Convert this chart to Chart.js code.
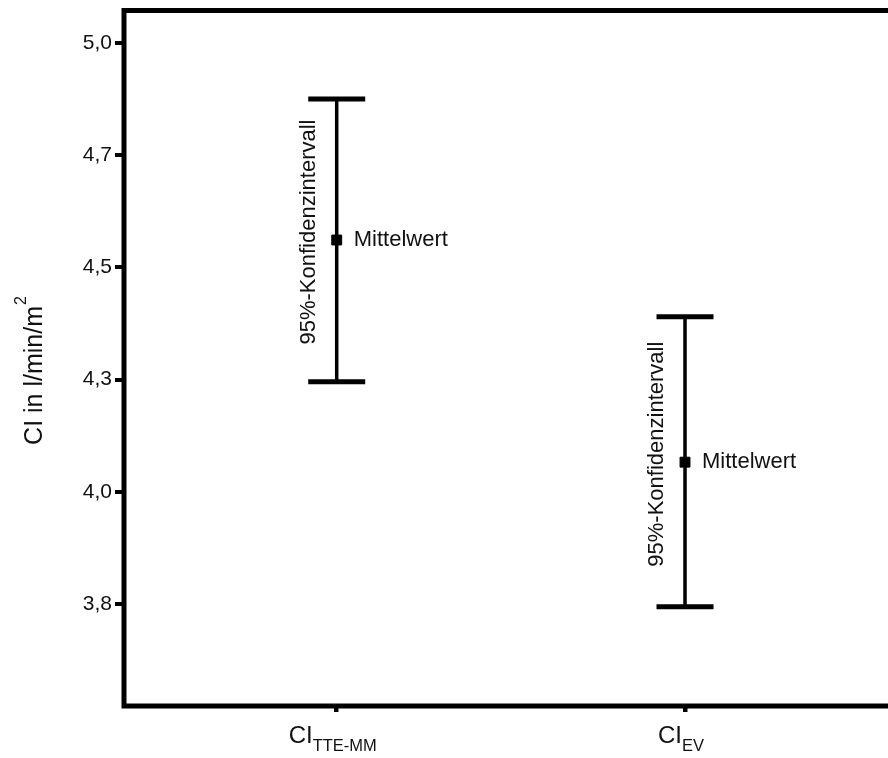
<!DOCTYPE html>
<html>
<head>
<meta charset="utf-8">
<script src="https://cdn.jsdelivr.net/npm/chart.js@4/dist/chart.umd.min.js"></script>
<style>
  html, body { margin: 0; padding: 0; background: #fff; overflow: hidden; }
  #wrap { width: 888px; height: 758px; position: relative; }
</style>
</head>
<body>
<div id="wrap"><canvas id="c" width="888" height="758"></canvas></div>
<script>
// Group positions and labels (main text + subscript)
const groupPos = [1, 2];
const groupMain = ['CI', 'CI'];
const groupSub = ['TTE-MM', 'EV'];

// Mean cardiac index and 95% confidence limits (l/min/m²)
const means = [4.561, 4.066];
const ciLow = [4.245, 3.744];
const ciHigh = [4.875, 4.390];

// Y axis tick values and their printed labels
const yTickValues = [5.0, 4.75, 4.5, 4.25, 4.0, 3.75];
const yTickLabels = ['5,0', '4,7', '4,5', '4,3', '4,0', '3,8'];

const FONT = '"Liberation Sans", Arial, sans-serif';

// One line dataset per group: vertical whisker with horizontal caps
const whiskerSets = groupPos.map((x, i) => ({
  data: [{ x: x, y: ciLow[i] }, { x: x, y: ciHigh[i] }],
  showLine: true,
  borderColor: '#000',
  borderWidth: 3.5,
  pointStyle: 'line',
  pointRadius: 28.5,
  pointBorderWidth: 5,
  pointBorderColor: '#000',
  pointHoverRadius: 28.5
}));

const meanSet = {
  data: groupPos.map((x, i) => ({ x: x, y: means[i] })),
  showLine: false,
  pointStyle: 'rect',
  pointRadius: 7,
  pointBackgroundColor: '#000',
  pointBorderColor: '#000',
  pointBorderWidth: 1
};

// Frame, axis title, group labels and annotations
const decor = {
  id: 'decor',
  afterDraw(chart) {
    const ctx = chart.ctx;
    const a = chart.chartArea;
    const xs = chart.scales.x, ys = chart.scales.y;
    ctx.save();

    // frame (top, left, bottom)
    ctx.strokeStyle = '#000';
    ctx.lineWidth = 5;
    ctx.lineCap = 'butt';
    ctx.beginPath();
    ctx.moveTo(chart.width + 5, a.top + 0.5);
    ctx.lineTo(a.left, a.top + 0.5);
    ctx.lineTo(a.left, a.bottom);
    ctx.lineTo(chart.width + 5, a.bottom);
    ctx.stroke();

    ctx.fillStyle = '#111';

    // y axis title with superscript
    ctx.save();
    ctx.translate(33, 371);
    ctx.rotate(-Math.PI / 2);
    ctx.font = '25px ' + FONT;
    const mainT = 'CI in l/min/m';
    const w1 = ctx.measureText(mainT).width;
    ctx.font = '16px ' + FONT;
    const w2 = ctx.measureText('2').width;
    const start = -(w1 + w2) / 2;
    ctx.textBaseline = 'alphabetic';
    ctx.textAlign = 'left';
    ctx.font = '25px ' + FONT;
    ctx.fillText(mainT, start, 9);
    ctx.font = '16px ' + FONT;
    ctx.fillText('2', start + w1 + 1, -7);
    ctx.restore();

    // group labels with subscript
    groupPos.forEach((v, i) => {
      const px = xs.getPixelForValue(v) - 4;
      ctx.font = '24px ' + FONT;
      const m = ctx.measureText(groupMain[i]).width;
      ctx.font = '16.5px ' + FONT;
      const s = ctx.measureText(groupSub[i]).width;
      const x0 = px - (m + s) / 2;
      ctx.textAlign = 'left';
      ctx.textBaseline = 'alphabetic';
      ctx.font = '24px ' + FONT;
      ctx.fillText(groupMain[i], x0, 743);
      ctx.font = '16.5px ' + FONT;
      ctx.fillText(groupSub[i], x0 + m, 751);
    });

    // annotations beside each interval
    groupPos.forEach((v, i) => {
      const px = xs.getPixelForValue(v);
      const py = ys.getPixelForValue(means[i]);
      ctx.font = '22px ' + FONT;
      ctx.textAlign = 'left';
      ctx.textBaseline = 'middle';
      ctx.fillText('Mittelwert', px + 17, py);

      ctx.save();
      ctx.translate(px - 28, py - 8);
      ctx.rotate(-Math.PI / 2);
      ctx.textAlign = 'center';
      ctx.textBaseline = 'middle';
      ctx.fillText('95%-Konfidenzintervall', 0, 0);
      ctx.restore();
    });

    ctx.restore();
  }
};

new Chart(document.getElementById('c'), {
  type: 'scatter',
  data: { datasets: [...whiskerSets, meanSet] },
  options: {
    responsive: false,
    animation: false,
    events: [],
    layout: { autoPadding: false, padding: { top: 10, right: 0, bottom: 0, left: 0 } },
    plugins: { legend: { display: false }, tooltip: { enabled: false } },
    scales: {
      x: {
        type: 'linear',
        min: 0.3893,
        max: 2.5828,
        afterBuildTicks(scale) { scale.ticks = groupPos.map(v => ({ value: v })); },
        afterFit(scale) { scale.height = 52; scale.paddingLeft = 0; scale.paddingRight = 0; },
        ticks: { display: false },
        border: { display: false },
        grid: { display: true, drawOnChartArea: false, drawTicks: true, tickLength: 6, lineWidth: 4.5, color: '#000' }
      },
      y: {
        type: 'linear',
        min: 3.5227,
        max: 5.0735,
        afterBuildTicks(scale) { scale.ticks = yTickValues.map(v => ({ value: v })); },
        afterFit(scale) { scale.width = 124; scale.paddingTop = 0; scale.paddingBottom = 0; },
        ticks: {
          color: '#111',
          padding: 3,
          font: { family: FONT, size: 21 },
          callback(value) {
            const k = yTickValues.findIndex(t => Math.abs(t - value) < 1e-6);
            return k >= 0 ? yTickLabels[k] : '';
          }
        },
        border: { display: false },
        grid: { display: true, drawOnChartArea: false, drawTicks: true, tickLength: 9, lineWidth: 4, color: '#000' }
      }
    }
  },
  plugins: [decor]
});
</script>
</body>
</html>
